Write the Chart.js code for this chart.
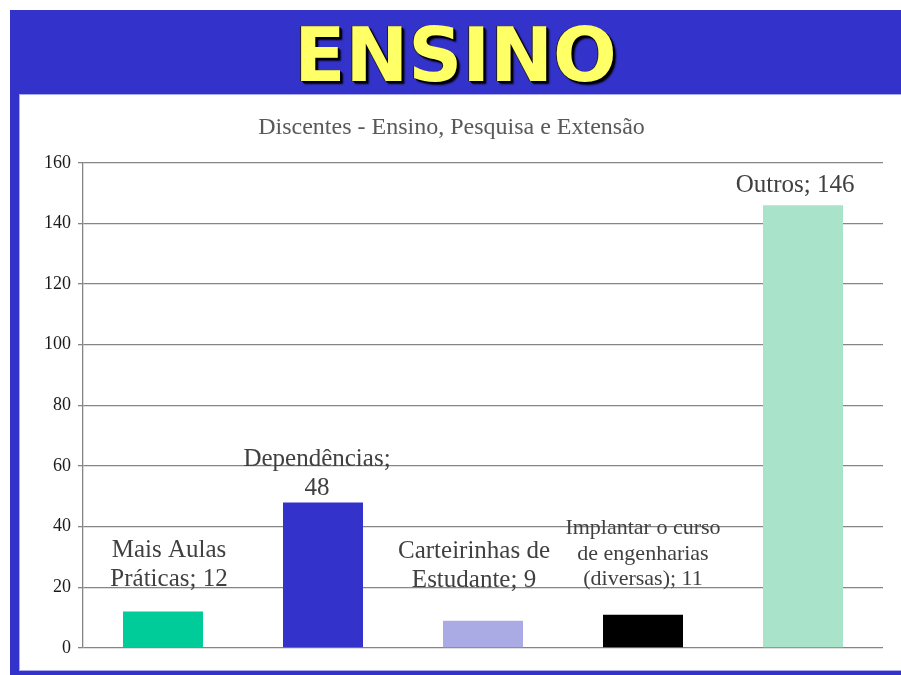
<!DOCTYPE html>
<html>
<head>
<meta charset="utf-8">
<title>Ensino</title>
<script src="https://cdn.jsdelivr.net/npm/chart.js@4.4.1/dist/chart.umd.min.js"></script>
<style>
  html, body { margin: 0; padding: 0; background: #ffffff; overflow: hidden; }
  #frame {
    position: absolute; left: 10px; top: 10px; width: 891px; height: 665px;
    background: #3333cc;
  }
  #heading {
    position: absolute; left: 10px; top: 18px; width: 891px;
    text-align: center;
    font-family: "DejaVu Sans", sans-serif; font-weight: bold;
    font-size: 75px; line-height: 75px;
    color: #ffff66;
    text-shadow: 1px 1px 0 #000, 2px 2px 0 #000, 3px 3px 2px #000, -1px 0 0 #222;
  }
  #panel {
    position: absolute; left: 20px; top: 95px; width: 881px; height: 575px;
    background: #ffffff;
    box-shadow: 0 0 0 1px #aaaaee;
  }
</style>
</head>
<body>
<div id="frame"></div>
<div id="heading">ENSINO</div>
<div id="panel"><canvas id="ensinoChart" width="881" height="575"></canvas></div>

<script>
// Dados
const categorias = [
  'Mais Aulas Práticas',
  'Dependências',
  'Carteirinhas de Estudante',
  'Implantar o curso de engenharias (diversas)',
  'Outros'
];
const valores = [12, 48, 9, 11, 146];
const coresBarras = ['#00cc99', '#3333cc', '#aaaae4', '#000000', '#a9e3c9'];
const yTicks = [0, 20, 40, 60, 80, 100, 120, 140, 160];

// ajustes dos rótulos (posição manual como no Excel)
const labelLift = [32, 14, 40, 35, 20];   // distância da última linha até o topo da barra
const labelShift = [6, -6, -9, 0, -8];
const labelSize = [25, 25, 25, 22, 25];

function wrapText(ctx, text, maxWidth) {
  const words = text.split(' ');
  const lines = [];
  let line = '';
  for (let w of words) {
    let test = line ? line + ' ' + w : w;
    if (line && ctx.measureText(test).width > maxWidth) {
      lines.push(line);
      line = w;
    } else {
      line = test;
    }
  }
  if (line) lines.push(line);
  return lines;
}

const barLabels = {
  id: 'barLabels',
  afterDatasetsDraw(chart) {
    const ctx = chart.ctx;
    const meta = chart.getDatasetMeta(0);
    ctx.save();
    ctx.fillStyle = '#404040';
    ctx.textAlign = 'center';
    ctx.textBaseline = 'middle';
    meta.data.forEach(function (bar, i) {
      let size = labelSize[i];
      ctx.font = size + 'px "Liberation Serif", serif';
      let lines = wrapText(ctx, categorias[i] + '; ' + valores[i], 160);
      let lh = size * 1.17;
      let x = bar.x + labelShift[i];
      let y = bar.y - labelLift[i];
      for (let k = lines.length - 1; k >= 0; k--) {
        ctx.fillText(lines[k], x, y);
        y -= lh;
      }
    });
    ctx.restore();
  }
};

Chart.defaults.font.family = '"Liberation Serif", serif';

var ctx = document.getElementById('ensinoChart').getContext('2d');
var chart = new Chart(ctx, {
  type: 'bar',
  data: {
    labels: categorias,
    datasets: [{
      data: valores,
      backgroundColor: coresBarras,
      borderWidth: 0,
      barPercentage: 0.5,
      categoryPercentage: 1
    }]
  },
  options: {
    responsive: false,
    animation: false,
    layout: { padding: { left: 0, right: 18, top: 0, bottom: 22 } },
    plugins: {
      legend: { display: false },
      tooltip: { enabled: false },
      title: {
        display: true,
        text: 'Discentes - Ensino, Pesquisa e Extensão',
        color: '#595959',
        font: { size: 24, weight: 'normal', family: '"Liberation Serif", serif' },
        padding: { top: 18, bottom: 21 }
      }
    },
    scales: {
      x: {
        display: false,
        offset: true
      },
      y: {
        min: 0,
        max: 160,
        afterBuildTicks: function (scale) {
          scale.ticks = yTicks.map(v => ({ value: v }));
        },
        afterFit: function (scale) {
          scale.width = 63;
        },
        grid: {
          color: '#858585',
          lineWidth: 1.3,
          tickLength: 5
        },
        border: { display: true, color: '#858585', width: 1.3 },
        ticks: {
          color: '#1a1a1a',
          padding: 7,
          font: { size: 18 }
        }
      }
    }
  },
  plugins: [barLabels]
});
</script>
</body>
</html>
